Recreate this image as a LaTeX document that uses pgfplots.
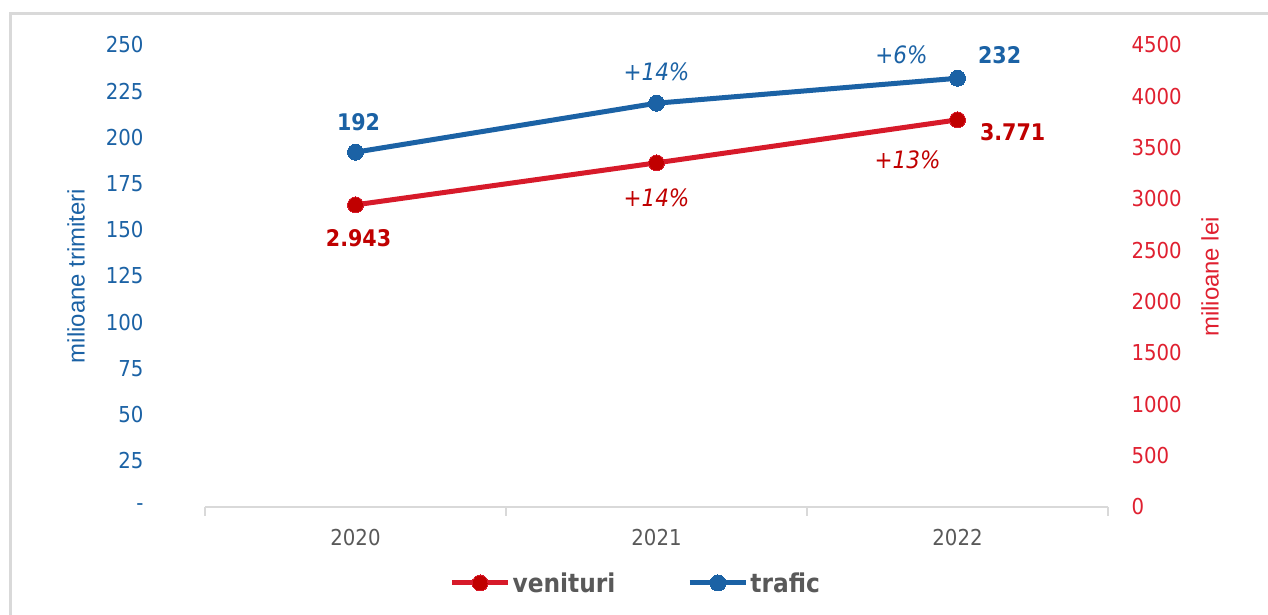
\documentclass[border=0pt]{standalone}
\usepackage{pgfplots}
\pgfplotsset{compat=1.18}
\usepackage{fontspec}
\setmainfont{DejaVu Sans Condensed}
\newfontfamily\arialfont{Liberation Sans}
\definecolor{tblue}{HTML}{1B62A5}
\definecolor{vred}{HTML}{D71A2A}
\definecolor{dred}{HTML}{C00000}
\definecolor{tickred}{HTML}{E02030}
\definecolor{lgray}{HTML}{D9D9D9}
\definecolor{tgray}{HTML}{595959}
\pgfplotsset{
  common/.style={
    at={(205bp,108bp)}, anchor=south west, scale only axis,
    width=903bp, height=462bp, xmin=-0.5, xmax=2.5, clip=false,
    major tick length=0pt,
  },
}
\begin{document}
\begin{tikzpicture}[x=1bp,y=1bp]
\useasboundingbox (0,0) rectangle (1268,615);
\fill[white] (0,0) rectangle (1268,615);
\draw[lgray, line width=3bp] (10,0) -- (10,601) -- (1268,601);
\begin{axis}[common,
  ymin=0, ymax=250,
  axis x line*=bottom, axis y line*=left,
  y axis line style={draw=none},
  x axis line style={lgray, line width=1.5bp},
  xtick={0,1,2}, xticklabels={2020,2021,2022},
  minor xtick={-0.5,0.5,1.5,2.5}, minor tick length=9bp,
  xtick align=outside,
  minor x tick style={lgray, line width=1.5bp},
  major x tick style={draw=none},
  ytick={0,25,50,75,100,125,150,175,200,225,250},
  yticklabels={-,25,50,75,100,125,150,175,200,225,250},
  ytick style={draw=none},
  yticklabel style={font=\fontsize{22}{22}\selectfont, text=tblue, anchor=east, xshift=-58bp},
  xticklabel style={font=\fontsize{22}{22}\selectfont, text=tgray, yshift=-19bp},
]
\addplot[tblue, line width=5bp, mark=*, mark size=8bp, mark options={solid, line width=0pt, fill=tblue}]
  coordinates {(0,192) (1,218.5) (2,232)};
\node[font=\bfseries\fontsize{23}{23}\selectfont, text=tblue] at (axis cs:0.01,208.3) {192};
\node[font=\bfseries\fontsize{23}{23}\selectfont, text=tblue] at (axis cs:2.14,244.6) {232};
\node[font=\itshape\fontsize{24}{24}\selectfont, text=tblue] at (axis cs:1.0,235.4) {+14\%};
\node[font=\itshape\fontsize{24}{24}\selectfont, text=tblue] at (axis cs:1.814,244.6) {+6\%};
\end{axis}
\begin{axis}[common,
  ymin=0, ymax=4500,
  axis x line=none, axis y line*=right,
  y axis line style={draw=none},
  ytick={0,500,1000,1500,2000,2500,3000,3500,4000,4500},
  yticklabels={0,500,1000,1500,2000,2500,3000,3500,4000,4500},
  ytick style={draw=none},
  yticklabel style={font=\fontsize{22}{22}\selectfont, text=tickred, anchor=west, xshift=20bp},
  legend style={at={(0.477,-0.1645)}, anchor=center, draw=none, fill=none,
    legend columns=2, font=\bfseries\fontsize{26}{26}\selectfont, text=tgray,
    /tikz/every even column/.append style={column sep=70bp},
    legend cell align=left},
  legend image code/.code={\draw[#1, mark repeat=2, mark phase=2] plot coordinates {(0bp,0bp) (28bp,0bp) (56bp,0bp)};},
]
\addplot[vred, line width=5bp, mark=*, mark size=8bp, mark options={solid, line width=0pt, fill=dred}]
  coordinates {(0,2943) (1,3352) (2,3771)};
\addlegendimage{tblue, line width=5bp, mark=*, mark size=8bp, mark options={solid, line width=0pt, fill=tblue}}
\legend{venituri,trafic}
\node[font=\bfseries\fontsize{23}{23}\selectfont, text=dred] at (axis cs:0.01,2620) {2.943};
\node[font=\bfseries\fontsize{23}{23}\selectfont, text=dred] at (axis cs:2.183,3648) {3.771};
\node[font=\itshape\fontsize{24}{24}\selectfont, text=dred] at (axis cs:1.0,3010) {+14\%};
\node[font=\itshape\fontsize{24}{24}\selectfont, text=dred] at (axis cs:1.834,3380) {+13\%};
\end{axis}
\node[rotate=90, font=\arialfont\fontsize{24}{24}\selectfont, text=tblue] at (76,339) {milioane trimiteri};
\node[rotate=90, font=\arialfont\fontsize{24}{24}\selectfont, text=tickred] at (1210,338) {milioane lei};
\end{tikzpicture}
\end{document}
